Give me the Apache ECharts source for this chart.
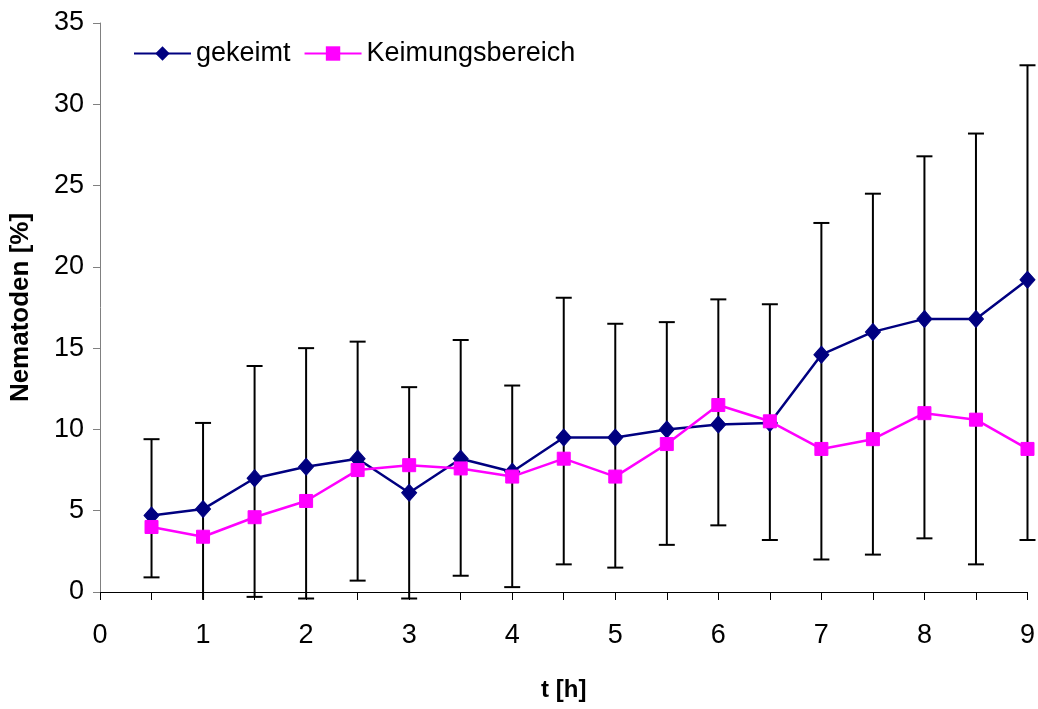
<!DOCTYPE html>
<html>
<head>
<meta charset="utf-8">
<title>Nematoden</title>
<script src="https://cdn.jsdelivr.net/npm/echarts@6/dist/echarts.min.js"></script>
<style>
  html, body { margin: 0; padding: 0; background: #fff; }
  #chart { width: 1038px; height: 709px; }
</style>
</head>
<body>
<div id="chart"></div>
<script>
// Zeitpunkte (Stunden)
const hours = [0.5, 1, 1.5, 2, 2.5, 3, 3.5, 4, 4.5, 5, 5.5, 6, 6.5, 7, 7.5, 8, 8.5, 9];

// Anteil gekeimter Nematoden [%]
const gekeimt = [4.7, 5.1, 7.0, 7.7, 8.2, 6.1, 8.2, 7.4, 9.5, 9.5, 10.0, 10.3, 10.4, 14.6, 16.0, 16.8, 16.8, 19.2];

// Anteil im Keimungsbereich [%]
const keimungsbereich = [4.0, 3.4, 4.6, 5.6, 7.5, 7.8, 7.6, 7.1, 8.2, 7.1, 9.1, 11.5, 10.5, 8.8, 9.4, 11.0, 10.6, 8.8];

// Fehlerbalken: obere und untere Grenze
const errUpper = [9.4, 10.4, 13.9, 15.0, 15.4, 12.6, 15.5, 12.7, 18.1, 16.5, 16.6, 18.0, 17.7, 22.7, 24.5, 26.8, 28.2, 32.4];
const errLower = [0.9, -0.7, -0.3, -0.4, 0.7, -0.4, 1.0, 0.3, 1.7, 1.5, 2.9, 4.1, 3.2, 2.0, 2.3, 3.3, 1.7, 3.2];

// Achsenbeschriftung
const xTicks = [0, 1, 2, 3, 4, 5, 6, 7, 8, 9];
const yTicks = [0, 5, 10, 15, 20, 25, 30, 35];

const FONT = "'Liberation Sans', Arial, sans-serif";
// bars are cut off where the plotting region ends below the zero line
const CLIP_FLOOR = -0.48;
const CAP_HALF = 8;

const chart = echarts.init(document.getElementById('chart'), null, { renderer: 'canvas' });

const errData = hours.map((h, i) => [h, errLower[i], errUpper[i]]);

const option = {
  backgroundColor: '#ffffff',
  animation: false,
  grid: { left: 100, right: 7, top: 23, bottom: 117, containLabel: false },
  legend: {
    left: 133,
    top: 40,
    padding: 0,
    itemWidth: 57,
    itemHeight: 18,
    itemGap: 13,
    textStyle: { fontFamily: FONT, fontSize: 27, color: '#000' },
    data: ['gekeimt', 'Keimungsbereich']
  },
  xAxis: {
    type: 'value',
    min: xTicks[0],
    max: xTicks[xTicks.length - 1],
    interval: 1,
    name: 't [h]',
    nameLocation: 'middle',
    nameGap: 86,
    nameTextStyle: { fontFamily: FONT, fontSize: 24, fontWeight: 'bold', color: '#000' },
    axisLine: { show: true, onZero: false, lineStyle: { color: '#000', width: 1 } },
    axisTick: { show: true, inside: false, length: 8, lineStyle: { color: '#000', width: 1 } },
    minorTick: { show: true, splitNumber: 2, length: 8, lineStyle: { color: '#000', width: 1 } },
    splitLine: { show: false },
    axisLabel: { fontFamily: FONT, fontSize: 27, color: '#000', margin: 30 }
  },
  yAxis: {
    type: 'value',
    min: yTicks[0],
    max: yTicks[yTicks.length - 1],
    interval: 5,
    name: 'Nematoden [%]',
    nameLocation: 'middle',
    nameGap: 66,
    nameTextStyle: { fontFamily: FONT, fontSize: 26, fontWeight: 'bold', color: '#000' },
    axisLine: { show: true, onZero: false, lineStyle: { color: '#808080', width: 1 } },
    axisTick: { show: true, inside: false, length: 7, lineStyle: { color: '#808080', width: 1 } },
    splitLine: { show: false },
    axisLabel: { fontFamily: FONT, fontSize: 27, color: '#000', margin: 16 }
  },
  series: [
    {
      name: 'Fehler',
      type: 'custom',
      z: 1,
      data: errData,
      encode: { x: 0, y: [1, 2] },
      renderItem: function (params, api) {
        const x = api.value(0);
        const lo = api.value(1);
        const hi = api.value(2);
        const top = api.coord([x, hi]);
        const loClamped = Math.max(lo, CLIP_FLOOR);
        const bot = api.coord([x, loClamped]);
        const style = { stroke: '#000', lineWidth: 2 };
        const children = [
          { type: 'line', shape: { x1: top[0], y1: top[1], x2: bot[0], y2: bot[1] }, style: style },
          { type: 'line', shape: { x1: top[0] - CAP_HALF, y1: top[1], x2: top[0] + CAP_HALF, y2: top[1] }, style: style }
        ];
        if (lo >= CLIP_FLOOR) {
          children.push({ type: 'line', shape: { x1: bot[0] - CAP_HALF, y1: bot[1], x2: bot[0] + CAP_HALF, y2: bot[1] }, style: style });
        }
        return { type: 'group', children: children };
      }
    },
    {
      name: 'gekeimt',
      type: 'line',
      z: 2,
      data: hours.map((h, i) => [h, gekeimt[i]]),
      symbol: 'diamond',
      symbolSize: [15, 17],
      showAllSymbol: true,
      lineStyle: { color: '#000080', width: 2.5 },
      itemStyle: { color: '#000080', borderColor: '#000080' }
    },
    {
      name: 'Keimungsbereich',
      type: 'line',
      z: 3,
      data: hours.map((h, i) => [h, keimungsbereich[i]]),
      symbol: 'rect',
      symbolSize: 13,
      showAllSymbol: true,
      lineStyle: { color: '#ff00ff', width: 2.5 },
      itemStyle: { color: '#ff00ff', borderColor: '#ff00ff' }
    }
  ]
};

chart.setOption(option);
</script>
</body>
</html>
